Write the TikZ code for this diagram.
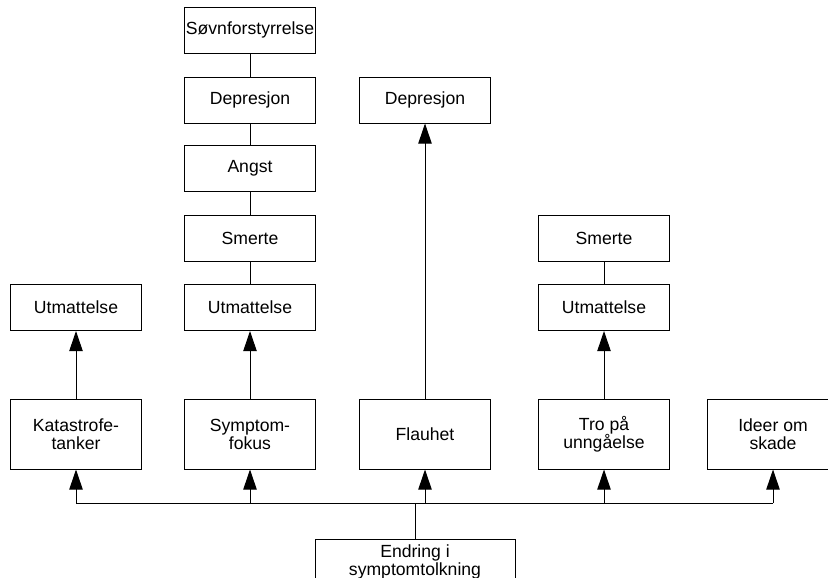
\documentclass[tikz,border=0pt]{standalone}
\usepackage{fontspec}
\setmainfont{Liberation Sans}
\usetikzlibrary{arrows.meta}

\begin{document}
\begin{tikzpicture}[x=0.75pt,y=-0.75pt,
		box/.style={draw,line width=0.75pt,minimum width=98pt,minimum height=34.5pt,
			inner sep=1pt,align=center,font=\fontsize{13.2}{13.5}\selectfont},
		tallbox/.style={box,minimum height=52.5pt},
		arr/.style={line width=0.75pt,-{Triangle[length=15pt,width=10pt]}},
		link/.style={line width=0.75pt}]
				\useasboundingbox (0,0) rectangle (828,578);
				\clip (0,0) rectangle (828,578);
				% upper boxes
				\node[box] (sovn) at (250,30) {Søvnforstyrrelse};
				\node[box] (depA) at (250,100) {Depresjon};
				\node[box] (angst) at (250,168.5) {Angst};
				\node[box] (smerteA) at (250,238.5) {Smerte};
				\node[box] (utmB) at (250,307.5) {Utmattelse};
				\node[box] (utmA) at (76,307.5) {Utmattelse};
				\node[box] (depB) at (425,100) {Depresjon};
				\node[box] (smerteB) at (604,238.5) {Smerte};
				\node[box] (utmC) at (604,307.5) {Utmattelse};
				% bottom row
				\node[tallbox] (kat) at (76,434) {Katastrofe-\\tanker};
				\node[tallbox] (symp) at (250,434) {Symptom-\\fokus};
				\node[tallbox] (flau) at (425,434) {Flauhet};
				\node[tallbox] (tro) at (604,434) {Tro på\\unngåelse};
				\node[tallbox] (idee) at (773,434) {Ideer om\\skade};
				\node[box,minimum width=150pt] (endr) at (415,562) {Endring i\\symptomtolkning};
				\coordinate (bus) at (415,503);
				% links
				\draw[link] (sovn) -- (depA);
				\draw[link] (depA) -- (angst);
				\draw[link] (angst) -- (smerteA);
				\draw[link] (smerteA) -- (utmB);
				\draw[link] (smerteB) -- (utmC);
				\draw[arr] (kat) -- (utmA);
				\draw[arr] (symp) -- (utmB);
				\draw[arr] (flau) -- (depB);
				\draw[arr] (tro) -- (utmC);
				% bus
				\draw[link] (endr.north) -- (bus);
				\draw[link] (kat.south |- bus) -- (idee.south |- bus);
				\foreach \n in {kat,symp,flau,tro,idee}
					\draw[arr] (\n.south |- bus) -- (\n.south);
			\end{tikzpicture}
\end{document}
